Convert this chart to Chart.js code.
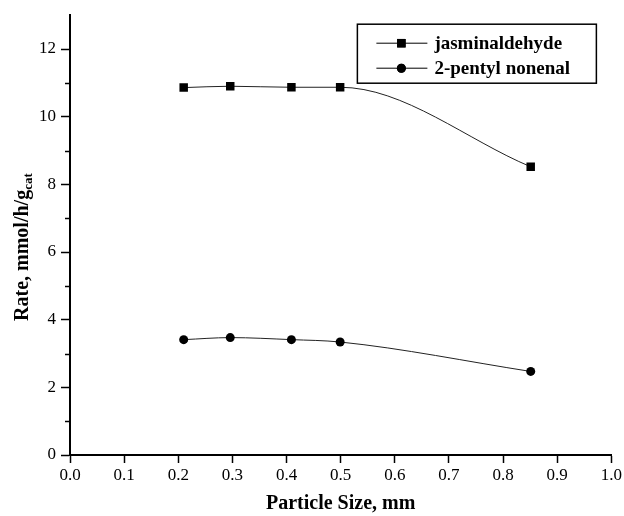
<!DOCTYPE html>
<html>
<head>
<meta charset="utf-8">
<script src="https://cdn.jsdelivr.net/npm/chart.js@4/dist/chart.umd.min.js"></script>
<style>
  html, body { margin: 0; padding: 0; background: #fff; }
  #wrap { width: 624px; height: 516px; }
</style>
</head>
<body>
<div id="wrap"><canvas id="rateChart" width="624" height="516"></canvas></div>
<script>
// particle size (mm) and rates (mmol/h/g_cat)
const particleSizes = [0.21, 0.296, 0.409, 0.499, 0.851];
const jasminaldehyde = [10.86, 10.90, 10.87, 10.87, 8.52];
const pentylNonenal = [3.41, 3.47, 3.41, 3.34, 2.47];
const seriesNames = ['jasminaldehyde', '2-pentyl nonenal'];

const serif = '"Liberation Serif", "Times New Roman", serif';

function toPoints(ys) {
  return particleSizes.map((x, i) => ({ x: x, y: ys[i] }));
}

// y title with subscript, short minor ticks, boxed legend
const extras = {
  id: 'extras',
  afterDraw(chart) {
    const ctx = chart.ctx;
    const area = chart.chartArea;
    const yScale = chart.scales.y;

    // minor ticks at odd values
    ctx.save();
    ctx.strokeStyle = '#000';
    ctx.lineWidth = 1.5;
    for (let v = 1; v < 13; v += 2) {
      const py = Math.round(yScale.getPixelForValue(v)) + 0.5;
      ctx.beginPath();
      ctx.moveTo(area.left - 5, py);
      ctx.lineTo(area.left, py);
      ctx.stroke();
    }
    ctx.restore();

    // y axis title
    ctx.save();
    ctx.translate(28, area.top + (area.bottom - area.top) / 2 + 12);
    ctx.rotate(-Math.PI / 2);
    ctx.fillStyle = '#000';
    ctx.textBaseline = 'alphabetic';
    const main = 'Rate, mmol/h/g';
    ctx.font = 'bold 13px ' + serif;
    const subW = ctx.measureText('cat').width;
    ctx.font = 'bold 20px ' + serif;
    const mainW = ctx.measureText(main).width;
    const start = -(mainW + subW) / 2;
    ctx.textAlign = 'left';
    ctx.fillText(main, start, 0);
    ctx.font = 'bold 13px ' + serif;
    ctx.fillText('cat', start + mainW, 4);
    ctx.restore();

    // legend box
    const boxR = area.right - 15;
    const boxL = boxR - 239;
    const boxT = area.top + 9;
    const boxB = boxT + 59;
    ctx.save();
    ctx.strokeStyle = '#000';
    ctx.lineWidth = 1.5;
    ctx.strokeRect(boxL, boxT, boxR - boxL, boxB - boxT);
    ctx.font = 'bold 19px ' + serif;
    ctx.textBaseline = 'middle';
    chart.data.datasets.forEach((ds, i) => {
      const cy = boxT + 19 + i * 25;
      ctx.strokeStyle = '#000';
      ctx.lineWidth = 1;
      ctx.beginPath();
      ctx.moveTo(boxL + 19, cy);
      ctx.lineTo(boxL + 70, cy);
      ctx.stroke();
      Chart.helpers.drawPoint(ctx, {
        pointStyle: ds.pointStyle,
        radius: ds.pointRadius,
        borderWidth: 0
      }, boxL + 44, cy);
      ctx.fillStyle = '#000';
      ctx.fill();
      ctx.fillText(ds.label, boxL + 77, cy + 1);
    });
    ctx.restore();
  }
};

new Chart(document.getElementById('rateChart'), {
  type: 'line',
  data: {
    datasets: [
      {
        label: seriesNames[0],
        data: toPoints(jasminaldehyde),
        borderColor: '#222',
        borderWidth: 1,
        pointStyle: 'rect',
        pointRadius: 6,
        pointBackgroundColor: '#000',
        pointBorderWidth: 0,
        cubicInterpolationMode: 'monotone'
      },
      {
        label: seriesNames[1],
        data: toPoints(pentylNonenal),
        borderColor: '#222',
        borderWidth: 1,
        pointStyle: 'circle',
        pointRadius: 4.5,
        pointBackgroundColor: '#000',
        pointBorderWidth: 0,
        cubicInterpolationMode: 'monotone'
      }
    ]
  },
  options: {
    responsive: false,
    animation: false,
    devicePixelRatio: 1,
    layout: { padding: { left: 0, right: 11, top: 14, bottom: 0 } },
    plugins: {
      legend: { display: false },
      tooltip: { enabled: false }
    },
    scales: {
      x: {
        type: 'linear',
        min: 0,
        max: 1,
        afterFit(scale) { scale.height = 61; },
        ticks: {
          stepSize: 0.1,
          color: '#000',
          font: { family: serif, size: 17 },
          padding: 2,
          maxRotation: 0,
          autoSkip: false,
          callback: v => v.toFixed(1)
        },
        grid: {
          drawOnChartArea: false,
          drawTicks: true,
          tickLength: 8,
          tickColor: '#000',
          tickWidth: 1.5
        },
        border: { color: '#000', width: 2 },
        title: {
          display: true,
          text: 'Particle Size, mm',
          color: '#000',
          font: { family: serif, size: 20, weight: 'bold' },
          padding: { top: 0, bottom: 0 }
        }
      },
      y: {
        min: 0,
        max: 13,
        afterFit(scale) { scale.width = 70; },
        ticks: {
          stepSize: 1,
          color: '#000',
          font: { family: serif, size: 17 },
          padding: 5,
          autoSkip: false,
          callback: v => (v % 2 === 0 ? v : '')
        },
        grid: {
          drawOnChartArea: false,
          drawTicks: true,
          tickLength: 9,
          tickColor: c => (c.tick && c.tick.value % 2 === 0 ? '#000' : 'rgba(0,0,0,0)'),
          tickWidth: 1.5
        },
        border: { color: '#000', width: 2 }
      }
    }
  },
  plugins: [extras]
});
</script>
</body>
</html>
